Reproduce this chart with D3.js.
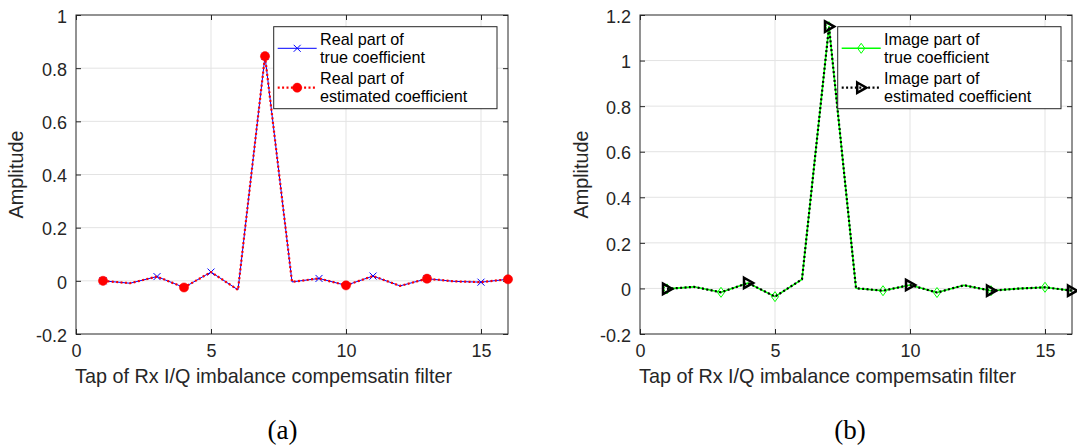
<!DOCTYPE html>
<html>
<head>
<meta charset="utf-8">
<script src="https://cdn.jsdelivr.net/npm/d3@7"></script>
<style>
  body { margin: 0; background: #fff; }
  svg { display: block; }
  text { font-family: "Liberation Sans", Arial, Helvetica, sans-serif; }
  text.caption { font-family: "Liberation Serif", "Times New Roman", serif; }
</style>
</head>
<body>
<svg id="fig" width="1077" height="446"></svg>
<script>
// Filter taps
const taps = [1, 2, 3, 4, 5, 6, 7, 8, 9, 10, 11, 12, 13, 14, 15, 16];

// Real part of the compensation filter coefficients
const realTrue = [0.000, -0.009, 0.016, -0.025, 0.033, -0.034, 0.845, -0.004,
                  0.009, -0.017, 0.018, -0.019, 0.008, -0.002, -0.005, 0.006];
const realEst  = [0.000, -0.009, 0.016, -0.025, 0.033, -0.034, 0.845, -0.004,
                  0.009, -0.017, 0.018, -0.019, 0.008, -0.002, -0.005, 0.006];

// Imaginary part of the compensation filter coefficients
const imagTrue = [-0.002, 0.007, -0.017, 0.024, -0.036, 0.040, 1.149, 0.001,
                  -0.010, 0.015, -0.018, 0.014, -0.010, -0.001, 0.005, -0.010];
const imagEst  = [-0.002, 0.007, -0.017, 0.024, -0.036, 0.040, 1.149, 0.001,
                  -0.010, 0.015, -0.018, 0.014, -0.010, -0.001, 0.005, -0.010];

// Taps that carry a marker
const trueMarkerTaps = [1, 3, 5, 7, 9, 11, 13, 15];
const estMarkerTaps  = [1, 4, 7, 10, 13, 16];

// Axis ticks
const xTicks = [0, 5, 10, 15];
const xTickLabels = ["0", "5", "10", "15"];
const yTicksA = [-0.2, 0, 0.2, 0.4, 0.6, 0.8, 1];
const yTickLabelsA = ["-0.2", "0", "0.2", "0.4", "0.6", "0.8", "1"];
const yTicksB = [-0.2, 0, 0.2, 0.4, 0.6, 0.8, 1, 1.2];
const yTickLabelsB = ["-0.2", "0", "0.2", "0.4", "0.6", "0.8", "1", "1.2"];

const xLabel = "Tap of Rx I/Q imbalance compemsatin filter";
const yLabel = "Amplitude";

const AX = "#262626";
const GRID = "#e3e3e3";
const TICK_FS = 18, LABEL_FS = 19.8, LEGEND_FS = 16.2;

const svg = d3.select("#fig");

// Marker shapes
const markers = {
  cross: (g, color) => g.append("path")
      .attr("d", "M-3.5,-3.5L3.5,3.5M-3.5,3.5L3.5,-3.5")
      .attr("fill", "none").attr("stroke", color).attr("stroke-width", 1),
  circle: (g, color) => g.append("circle").attr("r", 4.6)
      .attr("fill", color).attr("stroke", color).attr("stroke-width", 0.5),
  diamond: (g, color) => g.append("path")
      .attr("d", "M0,-5L3.6,0L0,5L-3.6,0Z")
      .attr("fill", "none").attr("stroke", color).attr("stroke-width", 1),
  triangle: (g, color) => g.append("path")
      .attr("d", "M-4,-5.2L5.2,0L-4,5.2Z")
      .attr("fill", "none").attr("stroke", color).attr("stroke-width", 2.5)
      .attr("stroke-linejoin", "miter")
};

function drawPanel(cfg) {
  const x = d3.scaleLinear().domain([0, 16]).range([cfg.left, cfg.right]);
  const y = d3.scaleLinear().domain(cfg.yDomain).range([cfg.bottom, cfg.top]);
  const g = svg.append("g");

  // grid
  g.append("g").selectAll("line").data(xTicks.filter(d => d > 0)).join("line")
    .attr("x1", d => x(d)).attr("x2", d => x(d))
    .attr("y1", cfg.top).attr("y2", cfg.bottom)
    .attr("stroke", GRID).attr("stroke-width", 1);
  g.append("g").selectAll("line").data(cfg.yTicks.slice(1, -1)).join("line")
    .attr("x1", cfg.left).attr("x2", cfg.right)
    .attr("y1", d => y(d)).attr("y2", d => y(d))
    .attr("stroke", GRID).attr("stroke-width", 1);

  // axes with inward ticks
  const styleAxis = sel => {
    sel.select(".domain").remove();
    sel.selectAll(".tick line").attr("stroke", AX);
    sel.selectAll("text").attr("fill", AX).attr("font-size", TICK_FS);
  };
  g.append("g").attr("transform", `translate(0,${cfg.bottom})`)
    .call(d3.axisBottom(x).tickValues(xTicks).tickFormat((d, i) => xTickLabels[i])
      .tickSizeInner(-5).tickSizeOuter(0).tickPadding(10))
    .call(styleAxis);
  g.append("g").attr("transform", `translate(0,${cfg.top})`)
    .call(d3.axisTop(x).tickValues(xTicks).tickFormat("")
      .tickSizeInner(-5).tickSizeOuter(0))
    .call(styleAxis);
  g.append("g").attr("transform", `translate(${cfg.left},0)`)
    .call(d3.axisLeft(y).tickValues(cfg.yTicks).tickFormat((d, i) => cfg.yTickLabels[i])
      .tickSizeInner(-5).tickSizeOuter(0).tickPadding(9))
    .call(styleAxis)
    .selectAll("text").attr("dy", "0.4em");
  g.append("g").attr("transform", `translate(${cfg.right},0)`)
    .call(d3.axisRight(y).tickValues(cfg.yTicks).tickFormat("")
      .tickSizeInner(-5).tickSizeOuter(0))
    .call(styleAxis);

  // box
  g.append("rect")
    .attr("x", cfg.left).attr("y", cfg.top)
    .attr("width", cfg.right - cfg.left).attr("height", cfg.bottom - cfg.top)
    .attr("fill", "none").attr("stroke", AX).attr("stroke-width", 1);

  // series
  const line = d3.line().x(d => x(d[0])).y(d => y(d[1]));
  cfg.series.forEach(s => {
    const pts = taps.map((t, i) => [t, s.values[i]]);
    g.append("path").datum(pts).attr("d", line)
      .attr("fill", "none").attr("stroke", s.color)
      .attr("stroke-width", s.width)
      .attr("stroke-dasharray", s.dash || null)
      .attr("stroke-linejoin", "round");
    s.markerTaps.forEach(t => {
      const i = taps.indexOf(t);
      const m = g.append("g").attr("transform", `translate(${x(t)},${y(s.values[i])})`);
      markers[s.marker](m, s.color);
    });
  });

  // axis labels
  g.append("text").attr("x", cfg.xLabelX).attr("y", 383)
    .attr("font-size", LABEL_FS).attr("fill", AX).text(xLabel);
  g.append("text")
    .attr("transform", `translate(${cfg.yLabelX},${(cfg.top + cfg.bottom) / 2}) rotate(-90)`)
    .attr("text-anchor", "middle").attr("font-size", LABEL_FS).attr("fill", AX)
    .text(yLabel);

  // legend
  const L = cfg.legend;
  g.append("rect").attr("x", L.x).attr("y", L.y).attr("width", L.w).attr("height", L.h)
    .attr("fill", "#fff").attr("stroke", AX).attr("stroke-width", 1);
  cfg.series.forEach((s, k) => {
    const ly = L.y + 21.6 + k * 39.4;
    g.append("line").attr("x1", L.x + 4).attr("x2", L.x + 43)
      .attr("y1", ly).attr("y2", ly)
      .attr("stroke", s.color).attr("stroke-width", s.width)
      .attr("stroke-dasharray", s.dash || null);
    const m = g.append("g").attr("transform", `translate(${L.x + 23.5},${ly})`);
    markers[s.marker](m, s.color);
    const t = g.append("text").attr("font-size", LEGEND_FS).attr("fill", "#000");
    s.label.forEach((ln, j) => {
      t.append("tspan").attr("x", L.x + 46.3).attr("y", L.y + 18.2 + k * 39 + j * 18.4).text(ln);
    });
  });
}

drawPanel({
  left: 76, right: 508, top: 15, bottom: 334,
  yDomain: [-0.2, 1], yTicks: yTicksA, yTickLabels: yTickLabelsA,
  xLabelX: 75, yLabelX: 23,
  legend: { x: 273.7, y: 26.7, w: 223.3, h: 82 },
  series: [
    { values: realTrue, color: "#0000ff", width: 1, marker: "cross",
      markerTaps: trueMarkerTaps, label: ["Real part of", "true coefficient"] },
    { values: realEst, color: "#ff0000", width: 2.2, dash: "2,2.4", marker: "circle",
      markerTaps: estMarkerTaps, label: ["Real part of", "estimated coefficient"] }
  ]
});

drawPanel({
  left: 640, right: 1072, top: 15, bottom: 334,
  yDomain: [-0.2, 1.2], yTicks: yTicksB, yTickLabels: yTickLabelsB,
  xLabelX: 639, yLabelX: 588,
  legend: { x: 837.7, y: 26.7, w: 223.3, h: 82 },
  series: [
    { values: imagTrue, color: "#00ff00", width: 1.6, marker: "diamond",
      markerTaps: trueMarkerTaps, label: ["Image part of", "true coefficient"] },
    { values: imagEst, color: "#000000", width: 2.2, dash: "2,2.4", marker: "triangle",
      markerTaps: estMarkerTaps, label: ["Image part of", "estimated coefficient"] }
  ]
});

// sub-figure captions
[["(a)", 282.5], ["(b)", 850]].forEach(([s, cx]) => {
  svg.append("text").attr("class", "caption").attr("x", cx).attr("y", 439)
    .attr("text-anchor", "middle")
    .attr("font-size", 27).attr("fill", "#000").text(s);
});
</script>
</body>
</html>
